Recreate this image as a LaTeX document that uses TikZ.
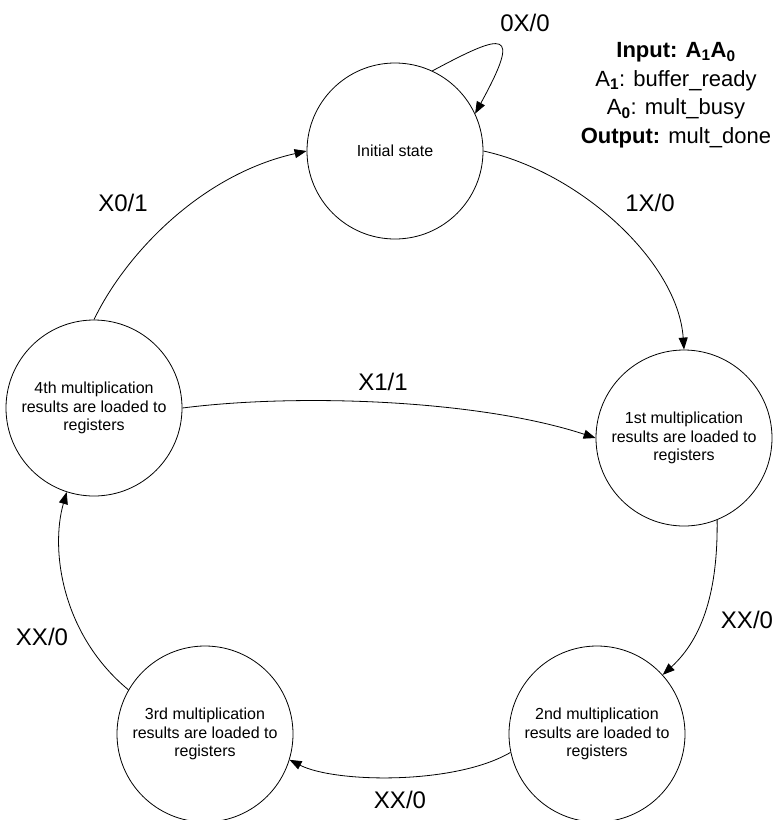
\documentclass[tikz,border=0pt]{standalone}
\usepackage{fontspec}
\setmainfont{Liberation Sans}
\usetikzlibrary{arrows.meta}
\begin{document}
\begin{tikzpicture}[x=1pt,y=-1pt,
  state/.style={draw, circle, minimum size=176pt, inner sep=0pt, line width=0.8pt,
    align=center, font=\fontsize{16}{18.5}\selectfont},
  trans/.style={line width=0.8pt, -{Triangle[length=12pt,width=9pt]}},
  elabel/.style={font=\fontsize{24}{28}\selectfont, inner sep=0pt},
  legendtext/.style={align=center, font=\fontsize{22}{28.5}\selectfont, inner sep=0pt}]
\useasboundingbox (0,0) rectangle (779,820);

% states
\node[state] (init) at (395,151) {Initial state};
\node[state] (s1) at (684,438) {1st multiplication\\results are loaded to\\registers};
\node[state] (s2) at (597,734) {2nd multiplication\\results are loaded to\\registers};
\node[state] (s3) at (205,734) {3rd multiplication\\results are loaded to\\registers};
\node[state] (s4) at (94,408) {4th multiplication\\results are loaded to\\registers};

% transitions
\draw[trans] (init.65.8) .. controls (505,32) and (522,28) .. (init.25);
\draw[trans] (init.0) .. controls (580,172) and (678,262) .. (s1.90);
\draw[trans] (s1.-68) .. controls (718,590) and (703,638) .. (s2.42);
\draw[trans] (s2.-168.3) .. controls (455,785) and (335,783) .. (s3.-17);
\draw[trans] (s3.150.3) .. controls (62,635) and (50,550) .. (s4.-108.8);
\draw[trans] (s4.90) .. controls (125,255) and (200,175) .. (init.180);
\draw[trans] (s4.0) .. controls (300,393) and (480,400) .. (s1.180);

% transition labels
\node[elabel] (l0) at (525,23) {0X/0};
\node[elabel] (l1) at (650,203) {1X/0};
\node[elabel] (l2) at (747,620) {XX/0};
\node[elabel] (l3) at (400,800) {XX/0};
\node[elabel] (l4) at (42,637) {XX/0};
\node[elabel] (l5) at (123,203) {X0/1};
\node[elabel] (l6) at (383,382) {X1/1};

% legend
\node[legendtext] (legend) at (676,95) {\textbf{Input: A\textsubscript{1}A\textsubscript{0}}\\
A\textsubscript{\textbf{1}}: buffer\_ready\\
A\textsubscript{\textbf{0}}: mult\_busy\\
\textbf{Output:} mult\_done};
\end{tikzpicture}
\end{document}
